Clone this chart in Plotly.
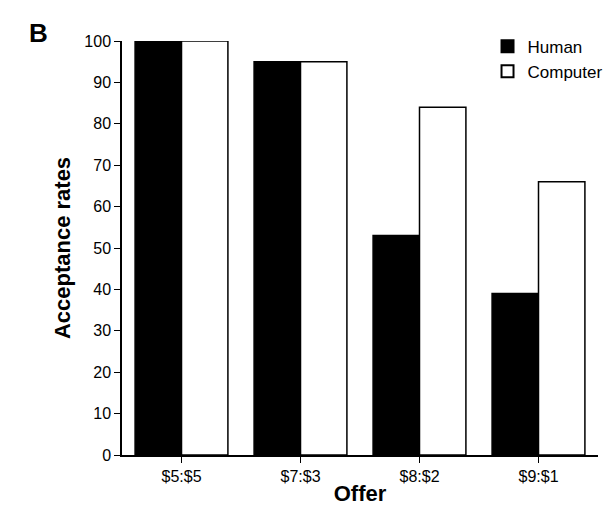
import plotly.graph_objects as go

offers = ["$5:$5", "$7:$3", "$8:$2", "$9:$1"]
human = [100, 95, 53, 39]
computer = [100, 95, 84, 66]

fig = go.Figure()
fig.add_trace(go.Bar(x=offers, y=human, name="Human",
                     marker=dict(color="black", line=dict(color="black", width=1.5))))
fig.add_trace(go.Bar(x=offers, y=computer, name="Computer",
                     marker=dict(color="white", line=dict(color="black", width=1.5))))

fig.update_layout(
    width=612, height=520,
    barmode="group", bargap=0.22, bargroupgap=0,
    plot_bgcolor="white", paper_bgcolor="white",
    font=dict(family="Liberation Sans, Arial", color="black", size=16),
    margin=dict(l=114, r=22, t=33, b=73),
    legend=dict(x=1.02, y=1.03, xanchor="right", yanchor="top",
                font=dict(size=17), itemsizing="constant",
                bgcolor="rgba(0,0,0,0)"),
    annotations=[dict(text="<b>B</b>", x=-0.2, y=1.02, xref="paper", yref="paper",
                      showarrow=False, font=dict(size=26), xanchor="left", yanchor="middle")],
)
fig.update_xaxes(
    title=dict(text="<b>Offer</b>", font=dict(size=22), standoff=2),
    tickfont=dict(size=16),
    showline=True, linecolor="black", linewidth=1.5,
    ticks="outside", ticklen=6, tickcolor="black",
)
fig.update_yaxes(
    title=dict(text="<b>Acceptance rates</b>", font=dict(size=22), standoff=8),
    tickfont=dict(size=16),
    range=[0, 100], dtick=10, showgrid=False, zeroline=False,
    showline=True, linecolor="black", linewidth=1.5,
    ticks="outside", ticklen=6, tickcolor="black",
)

fig.write_html("out.html")
